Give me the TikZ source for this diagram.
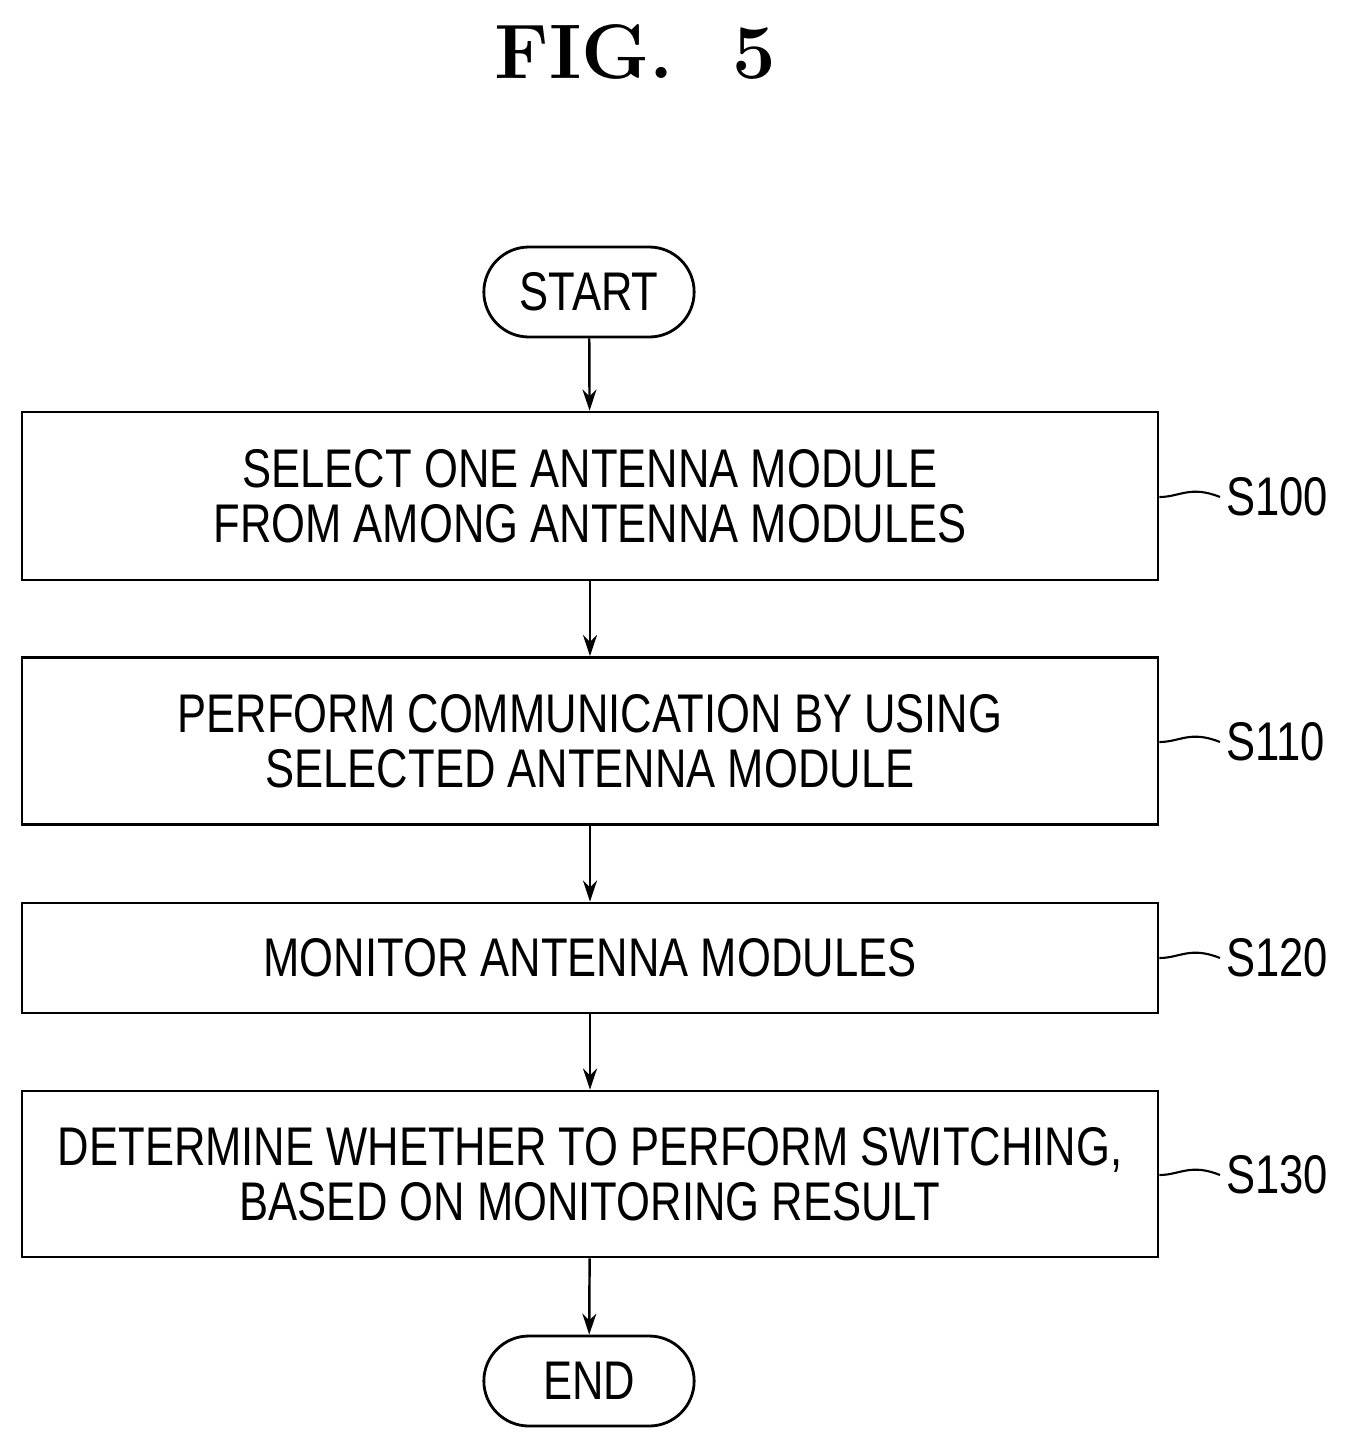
\documentclass[tikz,border=0pt]{standalone}
\usepackage{fontspec}
\newfontfamily\flowfont{Liberation Sans}[FakeStretch=0.8]
\usetikzlibrary{positioning, arrows.meta, shapes.misc}
\begin{document}
\begin{tikzpicture}[x=0.02cm,y=-0.02cm,
  stepbox/.style={draw,line width=1.6pt,minimum width=1136*0.02cm,align=center,
    font=\flowfont\fontsize{31}{31.5}\selectfont,inner sep=0pt},
  term/.style={draw,line width=1.6pt,rounded rectangle,minimum width=222*0.02cm,
    minimum height=90*0.02cm,font=\flowfont\fontsize{31}{36}\selectfont},
  arr/.style={-{Stealth[length=12pt,width=8pt]},line width=1.4pt},
  tag/.style={font=\flowfont\fontsize{31}{36}\selectfont,anchor=west}]
\useasboundingbox (0,0) rectangle (1348,1450);

\node[font=\fontsize{44}{50}\selectfont\bfseries] (title) at (635,52) {FIG.\ \ 5};%titre

\node[term,minimum width=222*0.02cm] (start) at (589,292) {\hspace*{0.4cm}START\hspace*{0.4cm}};
\node[stepbox,minimum height=168*0.02cm] (s100) at (590,496) {SELECT ONE ANTENNA MODULE\\FROM AMONG ANTENNA MODULES};
\node[stepbox,minimum height=167*0.02cm] (s110) at (590,741) {PERFORM COMMUNICATION BY USING\\SELECTED ANTENNA MODULE};
\node[stepbox,minimum height=110*0.02cm] (s120) at (590,958) {MONITOR ANTENNA MODULES};
\node[stepbox,minimum height=166*0.02cm] (s130) at (590,1174) {DETERMINE WHETHER TO PERFORM SWITCHING,\\BASED ON MONITORING RESULT};
\node[term] (end) at (589,1381) {\hspace*{0.7cm}END\hspace*{0.7cm}};

%les fleches
\draw[arr] (start) -- (s100);
\draw[arr] (s100) -- (s110);
\draw[arr] (s110) -- (s120);
\draw[arr] (s120) -- (s130);
\draw[arr] (s130) -- (end);

%les etiquettes
\foreach \s/\t/\y in {s100/S100/497, s110/S110/742, s120/S120/958, s130/S130/1175}{
  \node[tag] (l\s) at (1220,\y) {\t};
  \draw[line width=1.2pt] (\s.east |- 0,\y) .. controls (1180,\y) and (1190,\y-12) .. (l\s.west);
}
\end{tikzpicture}
\end{document}
